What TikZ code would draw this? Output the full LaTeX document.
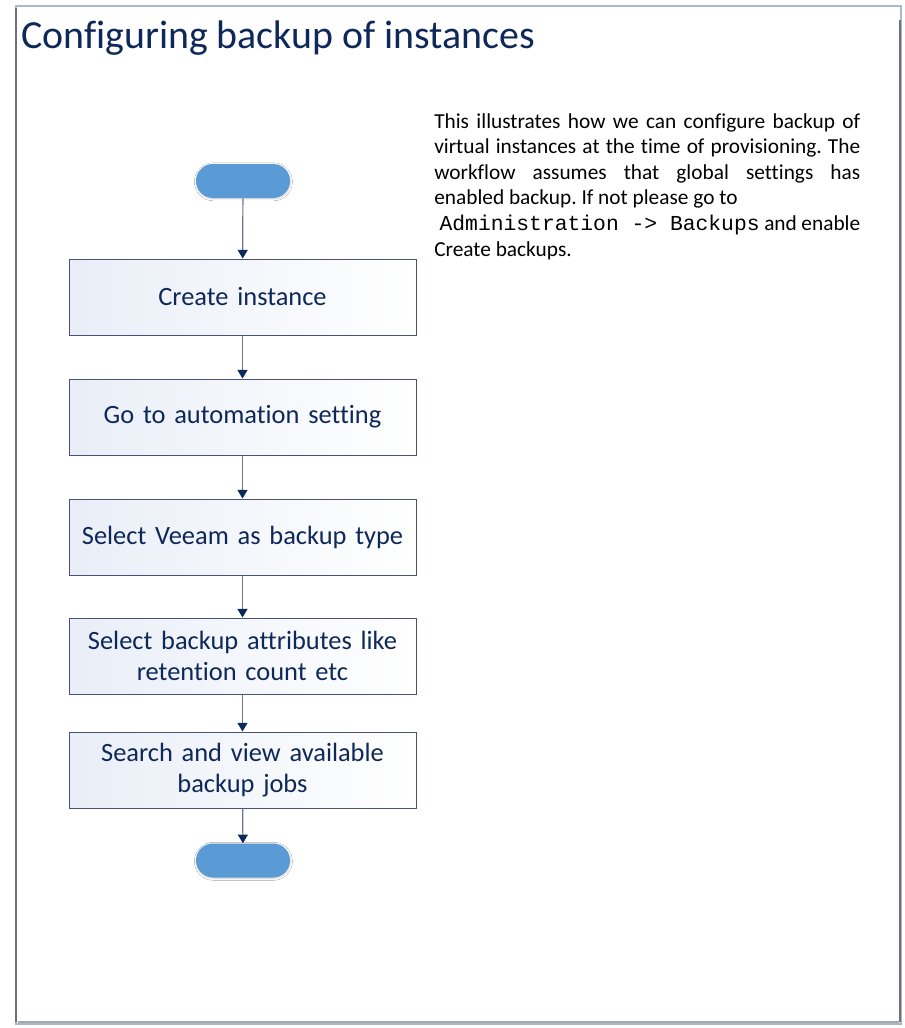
\documentclass[tikz,border=0pt]{standalone}
\usepackage{fontspec}
\setmainfont{Carlito}[HyphenChar=None, RawFeature={-liga;-clig;-calt;-dlig}]
\setmonofont{Liberation Mono}
\usetikzlibrary{arrows.meta,shadows.blur}
\frenchspacing

\definecolor{navy}{RGB}{14,40,90}
\definecolor{boxline}{RGB}{72,82,118}
\definecolor{arrowline}{RGB}{108,115,148}
\definecolor{termblue}{RGB}{91,155,213}
\definecolor{boxshade}{RGB}{233,238,247}
\definecolor{framelight}{RGB}{168,184,206}
\definecolor{framedark}{RGB}{112,112,116}

\begin{document}
\begin{tikzpicture}[
    x=0.75pt, y=-0.75pt,
    every node/.style={anchor=center},
    title/.style={anchor=base west, inner sep=0pt, text=navy, font=\fontsize{29.9}{36}\selectfont},
    terminal/.style={fill=termblue, rounded corners=12.75pt, minimum width=70.5pt, minimum height=25.5pt,
        blur shadow={shadow xshift=0.3pt, shadow yshift=-0.6pt, shadow blur radius=1.5pt, shadow opacity=20}},
    process/.style={draw=boxline, line width=0.75pt, left color=boxshade, right color=white,
        minimum width=260.25pt, minimum height=57pt, text width=250pt, align=center, inner sep=0pt,
        text=navy, font=\fontsize{19.8}{23.8}\selectfont},
    note/.style={anchor=base west, inner sep=0pt, text width=319.5pt, align=justify,
        font=\fontsize{16}{19.2}\selectfont},
    arrow/.style={-{Triangle[length=6.5pt, width=7.5pt, color=navy]}, draw=arrowline, line width=0.9pt}
    ]

% Page frame
\useasboundingbox (0,0) rectangle (904,1028);
\fill[white] (16,6) rectangle (901,1023);
\draw[framelight, line width=1.5pt] (16,6) rectangle (901,1024);
\draw[framedark, line width=1.5pt] (16,8) -- (16,1022);
\draw[framedark, line width=1.5pt] (900,20) -- (900,1022);
\draw[framedark!60, line width=1pt] (18,1022) -- (899,1022);

% Title
\node[title] (heading) at (21,48) {Configuring backup of instances};

% Flow
\node[terminal] (start) at (243,181) {};
\node[process] (create) at (242.5,297) {Create instance};
\node[process] (automation) at (242.5,417) {Go to automation setting};
\node[process] (veeam) at (242.5,537) {Select Veeam as backup type};
\node[process] (attributes) at (242.5,656) {Select backup attributes like\\retention count etc};
\node[process] (search) at (242.5,770) {Search and view available\\backup jobs};
\node[terminal] (stop) at (243,860.5) {};

% Arrows
\draw[arrow] (start) -- (create);
\draw[arrow] (create) -- (automation);
\draw[arrow] (automation) -- (veeam);
\draw[arrow] (veeam) -- (attributes);
\draw[arrow] (attributes) -- (search);
\draw[arrow] (search) -- (stop);

% Description
\node[note] (description) at (434,128) {This illustrates how we can configure backup of\linebreak
    virtual instances at the time of provisioning. The\linebreak
    workflow assumes that global settings has\linebreak
    enabled backup. If not please go to\\
    \hspace*{4pt}\texttt{Administration -> Backups} and enable\linebreak
    Create backups.};

\end{tikzpicture}
\end{document}
